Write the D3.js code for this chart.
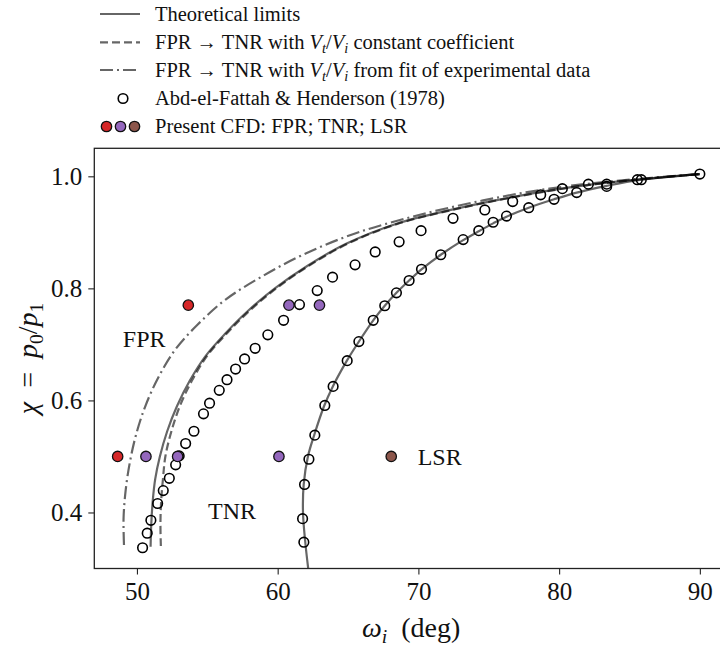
<!DOCTYPE html>
<html><head><meta charset="utf-8">
<script src="https://cdn.jsdelivr.net/npm/d3@7"></script>
<style>
body{margin:0;background:#fff}
svg{display:block}
text{font-family:'Liberation Serif','Times New Roman',serif;fill:#111}
</style>
</head><body>
<svg id="c" width="720" height="647"></svg>
<script>
// ---------------- data ----------------
const xTicks = [50, 60, 70, 80, 90];
const yTicks = [0.4, 0.6, 0.8, 1.0];

// Theoretical limit (left, TNR side)
const tnrLimitOmega = [50.97,51.02,51.12,51.30,51.63,52.15,52.85,53.75,54.90,56.30,57.90,59.80,62.10,64.90,68.40,72.30,76.50,81.00,85.50,90.0];
const tnrLimitChi   = [0.339,0.380,0.420,0.460,0.500,0.545,0.590,0.635,0.680,0.720,0.760,0.800,0.840,0.880,0.915,0.940,0.962,0.981,0.994,1.004];
// Theoretical limit (right, LSR)
const lsrLimitOmega = [62.17,61.95,61.80,61.85,62.15,62.62,63.30,63.92,64.92,65.77,66.79,67.61,68.44,69.34,70.22,71.59,73.18,74.29,75.31,76.26,77.84,79.64,81.25,83.38,85.84,90.0];
const lsrLimitChi   = [0.30,0.35,0.40,0.45,0.50,0.54,0.59,0.625,0.671,0.705,0.743,0.769,0.792,0.814,0.834,0.860,0.886,0.902,0.916,0.928,0.944,0.959,0.971,0.983,0.994,1.004];
// FPR -> TNR, Vt/Vi constant coefficient
const constOmega = [51.70,51.67,51.72,51.85,52.02,52.45,53.05,53.90,55.00,56.40,58.00,59.90,62.20,65.00,68.50,72.40,76.60,81.10,85.50,90.0];
const constChi   = [0.340,0.380,0.420,0.460,0.500,0.545,0.590,0.635,0.680,0.720,0.760,0.800,0.840,0.880,0.915,0.940,0.962,0.981,0.994,1.004];
// FPR -> TNR, Vt/Vi from fit of experimental data
const fitOmega = [49.08,49.05,49.20,49.50,49.95,50.60,51.50,52.70,54.30,56.30,58.80,61.80,65.50,69.90,74.60,79.30,84.10,90.0];
const fitChi   = [0.342,0.390,0.440,0.490,0.540,0.590,0.640,0.690,0.735,0.780,0.820,0.860,0.898,0.930,0.957,0.978,0.992,1.004];

// Abd-el-Fattah & Henderson (1978)
const expOmega = [50.40,50.73,50.99,51.47,51.87,52.30,52.75,53.00,53.46,54.05,54.73,55.16,55.85,56.40,57.01,57.65,58.40,59.30,60.42,61.55,62.81,63.90,65.50,66.93,68.63,70.19,72.46,74.72,76.70,78.69,80.23,82.08,83.38,85.56,90.0,
                  61.86,61.77,61.91,62.22,62.64,63.35,63.94,64.94,65.77,66.79,67.61,68.44,69.34,70.22,71.59,73.18,74.29,75.31,76.26,77.84,79.64,81.25,83.38,85.84];
const expChi   = [0.337,0.363,0.386,0.416,0.439,0.461,0.485,0.501,0.523,0.545,0.576,0.595,0.618,0.637,0.656,0.674,0.693,0.717,0.743,0.771,0.796,0.820,0.842,0.865,0.883,0.903,0.925,0.940,0.955,0.967,0.978,0.986,0.986,0.994,1.004,
                  0.347,0.389,0.450,0.495,0.538,0.591,0.625,0.671,0.705,0.743,0.769,0.792,0.814,0.834,0.860,0.887,0.903,0.918,0.929,0.944,0.959,0.971,0.982,0.994];

// Present CFD
const cfdFprOmega = [53.65, 48.63];
const cfdFprChi   = [0.770, 0.500];
const cfdTnrOmega = [50.64, 52.89, 60.09, 60.80, 62.97];
const cfdTnrChi   = [0.500, 0.500, 0.500, 0.770, 0.770];
const cfdLsrOmega = [68.07];
const cfdLsrChi   = [0.500];

const regionLabels = ["FPR", "TNR", "LSR"];
const regionOmega  = [49.0, 55.05, 69.95];
const regionChi    = [0.71, 0.403, 0.50];

// ---------------- drawing ----------------
const svg = d3.select("#c");
const L = 94.3, R = 728, T = 148.3, B = 568.5;
const x = d3.scaleLinear().domain([46.97, 92]).range([L, R]);
const y = d3.scaleLinear().domain([0.3, 1.05]).range([B, T]);

svg.append("defs").append("clipPath").attr("id","clip")
  .append("rect").attr("x",L).attr("y",T).attr("width",R-L).attr("height",B-T);

const zip = (a,b) => a.map((v,i)=>[v,b[i]]);
const line = d3.line().x(d=>x(d[0])).y(d=>y(d[1])).curve(d3.curveCatmullRom.alpha(0.5));

const plot = svg.append("g").attr("clip-path","url(#clip)");
const lineStyle = (sel, dash) => sel.attr("fill","none").attr("stroke","#000").attr("stroke-opacity",0.6)
  .attr("stroke-width",2.2).attr("stroke-dasharray",dash);

plot.append("path").datum(zip(tnrLimitOmega,tnrLimitChi)).attr("d",line).call(lineStyle,null);
plot.append("path").datum(zip(lsrLimitOmega,lsrLimitChi)).attr("d",line).call(lineStyle,null);
plot.append("path").datum(zip(constOmega,constChi)).attr("d",line).call(lineStyle,"8,4");
plot.append("path").datum(zip(fitOmega,fitChi)).attr("d",line).call(lineStyle,"13,4,2,4");

// experimental
plot.selectAll("circle.exp").data(zip(expOmega,expChi)).join("circle").attr("class","exp")
  .attr("cx",d=>x(d[0])).attr("cy",d=>y(d[1])).attr("r",4.8)
  .attr("fill","none").attr("stroke","#000").attr("stroke-width",1.6);

const cfd = [
  {o:cfdFprOmega, c:cfdFprChi, col:"#d62728"},
  {o:cfdTnrOmega, c:cfdTnrChi, col:"#9467bd"},
  {o:cfdLsrOmega, c:cfdLsrChi, col:"#8c564b"}
];
cfd.forEach(s=>{
  plot.selectAll(null).data(zip(s.o,s.c)).join("circle")
    .attr("cx",d=>x(d[0])).attr("cy",d=>y(d[1])).attr("r",5.2)
    .attr("fill",s.col).attr("stroke","#111").attr("stroke-width",1.3);
});

// region labels
svg.selectAll("text.reg").data(regionLabels).join("text").attr("class","reg")
  .attr("x",(d,i)=>x(regionOmega[i])).attr("y",(d,i)=>y(regionChi[i]))
  .attr("dy","0.35em").attr("font-size",24).text(d=>d);

// axes
const xAxis = d3.axisBottom(x).tickValues(xTicks).tickFormat(d3.format("d")).tickSize(6).tickPadding(8);
const yAxis = d3.axisLeft(y).tickValues(yTicks).tickFormat(d3.format(".1f")).tickSize(6).tickPadding(6);
const gx = svg.append("g").attr("transform",`translate(0,${B})`).call(xAxis);
const gy = svg.append("g").attr("transform",`translate(${L},0)`).call(yAxis);
[gx,gy].forEach(g=>{
  g.select(".domain").remove();
  g.selectAll(".tick line").attr("stroke","#222").attr("stroke-width",1.1);
  g.selectAll(".tick text").attr("font-size",25).attr("font-family","'Liberation Serif',serif").attr("fill","#111");
});
svg.append("rect").attr("x",L).attr("y",T).attr("width",R-L).attr("height",B-T)
  .attr("fill","none").attr("stroke","#222").attr("stroke-width",1.3);

// rich text helper
function rich(sel, parts, size){
  parts.forEach(p=>{
    const t = sel.append("tspan").text(p.t);
    if(p.i) t.attr("font-style","italic");
    if(p.sub){ t.attr("font-size",size*0.7).attr("dy",size*0.22); }
    if(p.back){ t.attr("dy",-size*0.22); }
  });
}

// axis labels
const xl = svg.append("text").attr("x",(L+R)/2).attr("y",637).attr("text-anchor","middle").attr("font-size",28);
rich(xl,[{t:"ω",i:true},{t:"i",i:true,sub:true},{t:"\u2002(deg)",back:true}],28);
const yl = svg.append("text").attr("transform",`translate(37,${(T+B)/2}) rotate(-90)`).attr("text-anchor","middle").attr("font-size",28);
rich(yl,[{t:"χ",i:true},{t:"\u2002=\u2002"},{t:"p",i:true},{t:"0",sub:true},{t:"/",back:true},{t:"p",i:true},{t:"1",sub:true}],28);

// legend
const legRows = [14, 42.3, 70, 98.5, 126.5];
const lg = svg.append("g");
const lx0 = 100, lx1 = 140, tx = 155, fs = 20.5;
lg.append("line").attr("x1",lx0).attr("x2",lx1).attr("y1",legRows[0]).attr("y2",legRows[0]).call(lineStyle,null);
lg.append("line").attr("x1",lx0).attr("x2",lx1).attr("y1",legRows[1]).attr("y2",legRows[1]).call(lineStyle,"8,4");
lg.append("line").attr("x1",lx0).attr("x2",lx1).attr("y1",legRows[2]).attr("y2",legRows[2]).call(lineStyle,"13,4,2,4");
lg.append("circle").attr("cx",123).attr("cy",legRows[3]).attr("r",4.8).attr("fill","none").attr("stroke","#000").attr("stroke-width",1.6);
[["#d62728",106.5],["#9467bd",120.5],["#8c564b",134.5]].forEach(([c,cx])=>{
  lg.append("circle").attr("cx",cx).attr("cy",legRows[4]).attr("r",5.2).attr("fill",c).attr("stroke","#111").attr("stroke-width",1.3);
});
const legTexts = [
  [{t:"Theoretical limits"}],
  [{t:"FPR → TNR with "},{t:"V",i:true},{t:"t",i:true,sub:true},{t:"/",back:true},{t:"V",i:true},{t:"i",i:true,sub:true},{t:" constant coefficient",back:true}],
  [{t:"FPR → TNR with "},{t:"V",i:true},{t:"t",i:true,sub:true},{t:"/",back:true},{t:"V",i:true},{t:"i",i:true,sub:true},{t:" from fit of experimental data",back:true}],
  [{t:"Abd-el-Fattah & Henderson (1978)"}],
  [{t:"Present CFD: FPR; TNR; LSR"}]
];
legTexts.forEach((parts,i)=>{
  const t = lg.append("text").attr("x",tx).attr("y",legRows[i]+6.5).attr("font-size",fs);
  rich(t,parts,fs);
});
</script>
</body></html>
